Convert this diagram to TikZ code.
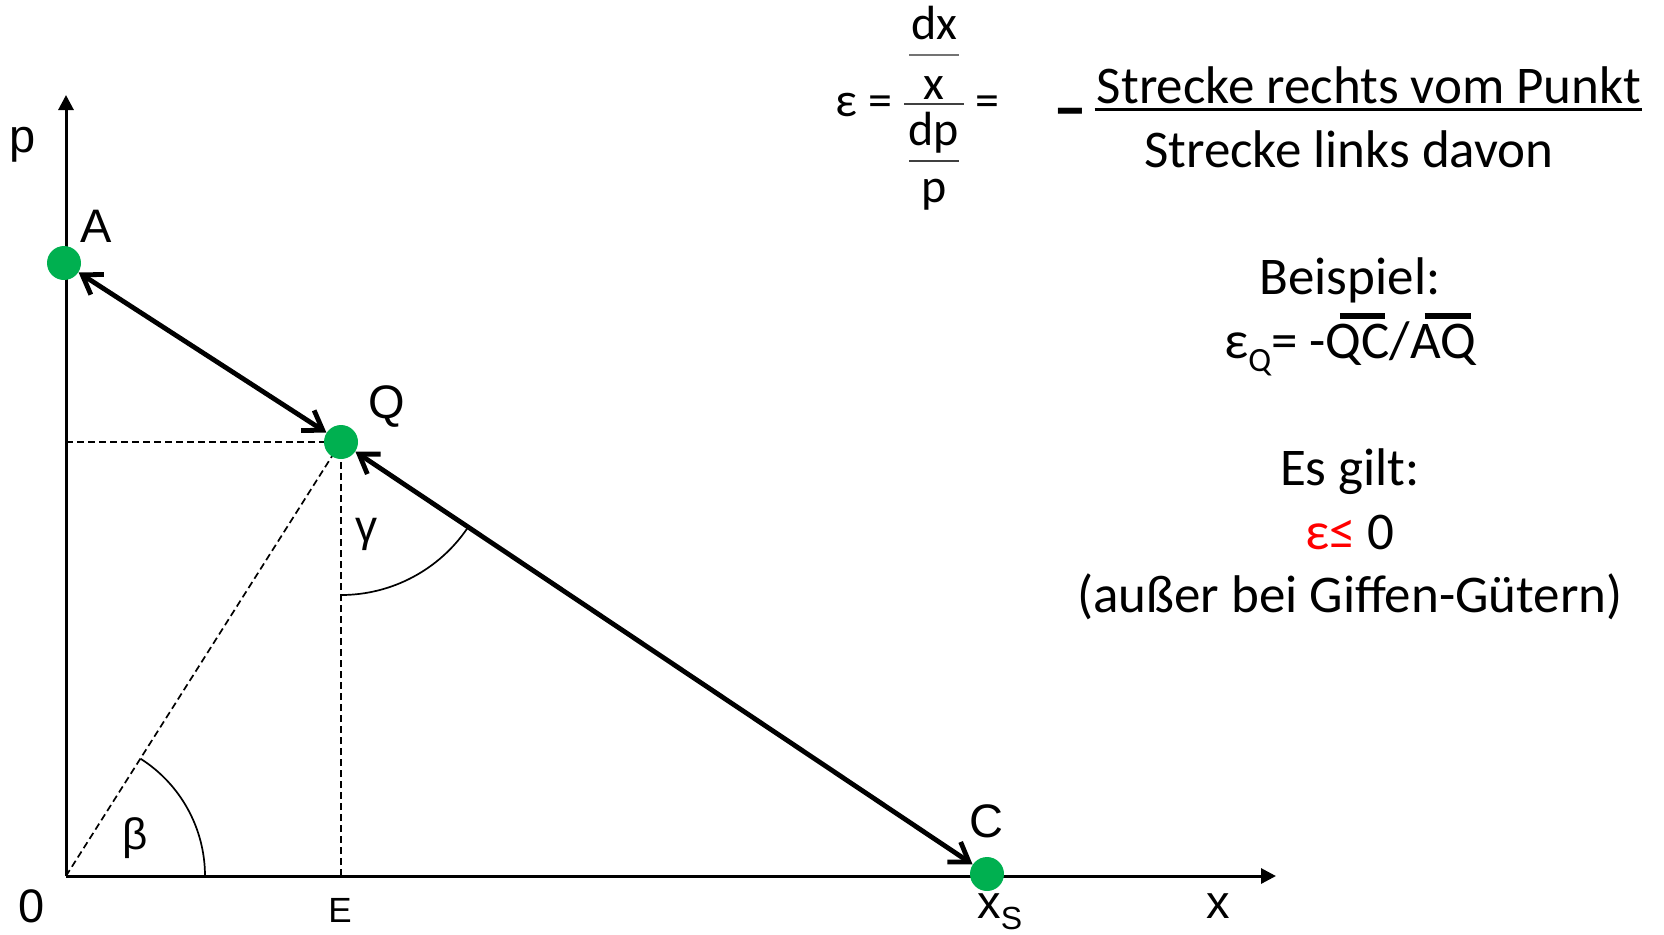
\documentclass[tikz,border=0pt]{standalone}
\usepackage{fontspec}
\setmainfont{Carlito}
\newfontfamily\arialf{Liberation Sans}
\usetikzlibrary{arrows.meta}
\pgfdeclarelayer{bg}
\pgfsetlayers{bg,main}
\newbox\ovbox
\newcommand\ovbar[1]{\setbox\ovbox\hbox{#1}\vbox{\offinterlineskip\hbox to \wd\ovbox{\hskip0.22\wd\ovbox\vrule height 3pt depth 0pt width 0.7\wd\ovbox\hss}\kern 2.5pt\box\ovbox}}
\definecolor{dotgreen}{RGB}{0,176,80}
\tikzset{
  dot/.style={circle,fill=dotgreen,draw=none,minimum size=17pt,inner sep=0pt},
  axis/.style={line width=1.5pt,-{Triangle[length=7.5pt,width=7.5pt]}},
  helper/.style={line width=0.85pt,dash pattern=on 3.5pt off 2pt},
  anglearc/.style={line width=0.85pt},
  dbl/.style={line width=2.4pt,{Straight Barb[length=9pt,width=12pt]}-{Straight Barb[length=9pt,width=12pt]}},
  lbl/.style={font=\arialf\fontsize{23.5}{28}\selectfont,inner sep=0pt},
  txt/.style={font=\fontsize{26.5}{32}\selectfont,inner sep=0pt,anchor=base},
  frac/.style={font=\fontsize{24}{28}\selectfont,inner sep=0pt,anchor=base},
  fracbar/.style={line width=0.9pt,black!75}
}
\begin{document}
\begin{tikzpicture}[x=0.5pt,y=-0.5pt]
\useasboundingbox (0,0) rectangle (1664,934);
% points
\coordinate (O) at (66,876);
\coordinate (ytop) at (66,95);
\coordinate (xend) at (1276,876);
\coordinate (yQ) at (66,442);
\coordinate (xE) at (341,876);
\node[dot] (A) at (64,263) {};
\node[dot] (Q) at (341,442) {};
\node[dot] (C) at (987,874) {};
\begin{pgfonlayer}{bg}
\draw[axis] (O) -- (ytop);
\draw[axis] (O) -- (xend);
\draw[helper] (yQ) -- (Q.center);
\draw[helper] (xE) -- (Q.center);
\draw[helper] (O) -- (Q.center);
\draw[anglearc] (205,876) arc[start angle=0,end angle=-57.6,radius=139];
\draw[anglearc] (341,595) arc[start angle=90,end angle=33.8,radius=153];
\end{pgfonlayer}
\draw[dbl] (A) -- (Q);
\draw[dbl] (Q) -- (C);
% labels
\node[lbl,anchor=base] (lp) at (23,152) {p};
\node[lbl,anchor=base] (lA) at (96,242) {A};
\node[lbl,anchor=base] (lQ) at (387,418) {Q};
\node[lbl,font=\arialf\fontsize{22}{26}\selectfont] (lg) at (366,534) {γ};
\node[lbl,font=\arialf\fontsize{22}{26}\selectfont] (lb) at (135,838) {β};
\node[lbl,anchor=base] (l0) at (32,922) {0};
\node[lbl,anchor=base,font=\arialf\fontsize{17.5}{20}\selectfont] (lE) at (340,922) {E};
\node[lbl,anchor=base] (lC) at (986,837) {C};
\node[lbl,anchor=base west] (lxs) at (977,918) {x\raisebox{-0.25em}{\fontsize{16}{18}\selectfont S}};
\node[lbl,anchor=base] (lx) at (1218,918) {x};
% formula
\node[font=\fontsize{24}{28}\selectfont,inner sep=0pt,anchor=base west] (eps) at (835,116) {ε =};
\node[frac] (fdx) at (934,39) {dx};
\draw[fracbar,black!55] (909,55) -- (959,55);
\node[frac] (fx) at (934,99) {x};
\draw[fracbar] (904,104) -- (964,104);
\node[frac] (fdp) at (934,145) {dp};
\draw[fracbar] (909,161) -- (959,161);
\node[frac] (fp) at (934,202) {p};
\node[font=\fontsize{24}{28}\selectfont,inner sep=0pt,anchor=base] (eq2) at (987,116) {=};
\node[txt,font=\bfseries\fontsize{34}{40}\selectfont] (minus) at (1070,130) {–};
\node[txt] (num) at (1369,103) {Strecke rechts vom Punkt};
\draw[line width=1.5pt] ([xshift=-1pt,yshift=-3.3pt]num.base west) -- ([yshift=-3.3pt]num.base east);
\node[txt] (den) at (1349,167) {Strecke links davon};
\node[txt] (bsp) at (1350,294) {Beispiel:};
\node[txt] (epsq) at (1350,358) {ε\raisebox{-0.25em}{\fontsize{17}{20}\selectfont Q}= -\ovbar{QC}/\ovbar{AQ}};
\node[txt] (es) at (1350,485) {Es gilt:};
\node[txt] (ineq) at (1350,549) {\textcolor{red}{ε≤} 0};
\node[txt] (giffen) at (1350,612) {(außer bei Giffen-Gütern)};
\end{tikzpicture}
\end{document}
